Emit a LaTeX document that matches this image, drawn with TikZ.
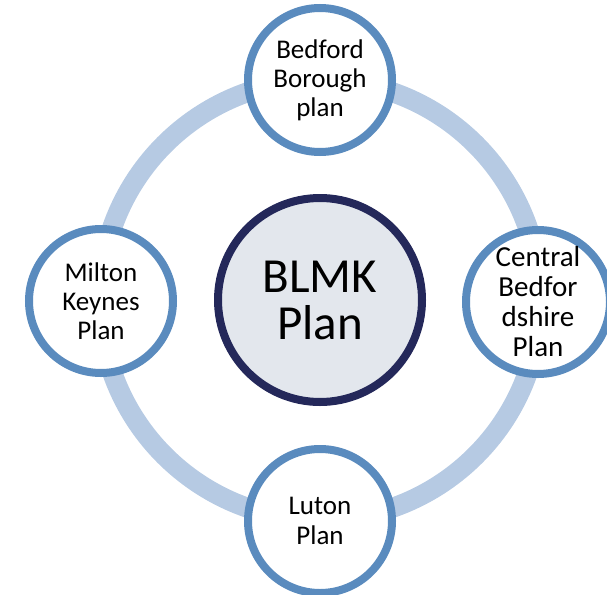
\documentclass[tikz,border=0pt]{standalone}
\usepackage{fontspec}
\setmainfont{Carlito}
\usetikzlibrary{shadows}
\definecolor{ringblue}{HTML}{B6CAE3}
\definecolor{edgeblue}{HTML}{5A8BBE}
\definecolor{hubfill}{HTML}{E3E7ED}
\definecolor{hubedge}{HTML}{24285A}
\tikzset{
  sat/.style={circle, draw=edgeblue, line width=8pt, fill=white, minimum size=144pt,
    inner sep=0pt, align=center, font=\fontsize{27}{29}\selectfont,
    drop shadow={opacity=0.18, shadow xshift=0pt, shadow yshift=-2pt}},
  hub/.style={circle, draw=hubedge, line width=8pt, fill=hubfill, minimum size=204pt,
    inner sep=0pt, align=center, font=\fontsize{49}{47}\selectfont,
    drop shadow={opacity=0.18, shadow xshift=0pt, shadow yshift=-2pt}},
  ringline/.style={draw=ringblue, line width=20pt}
}
\begin{document}
\begin{tikzpicture}[x=1pt,y=-1pt]
\clip (0,0) rectangle (607,594);
\coordinate (c) at (320,300);
\draw[ringline] (c) circle[radius=220pt];
\node[hub] (blmk) at (c) {BLMK\\Plan};
\node[sat] (bb) at (320,80) {Bedford\\Borough\\plan};
\node[sat, font=\fontsize{29}{30}\selectfont] (cb) at (538,302) {Central\\Bedfor\\dshire\\Plan};
\node[sat] (mk) at (101,301) {Milton\\Keynes\\Plan};
\node[sat, font=\fontsize{27}{30}\selectfont] (lu) at (320,521) {Luton\\Plan};
\end{tikzpicture}
\end{document}
